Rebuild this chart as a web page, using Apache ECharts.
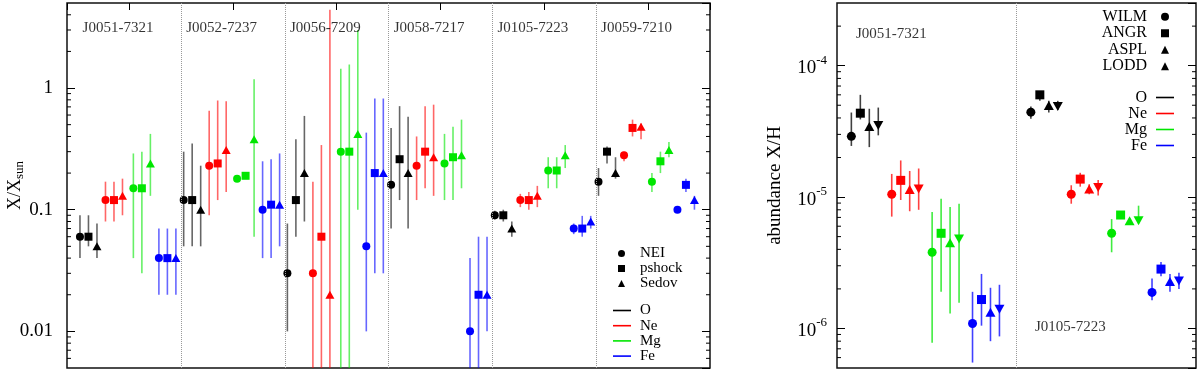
<!DOCTYPE html>
<html>
<head>
<meta charset="utf-8">
<script src="https://cdn.jsdelivr.net/npm/echarts@6/dist/echarts.min.js"></script>
<style>
html, body { margin: 0; padding: 0; background: #fff; }
#chart { width: 1200px; height: 372px; }
</style>
</head>
<body>
<div id="chart"></div>
<script>
// ---- left panel: X/Xsun per remnant, three plasma models ----
const leftGroups = ['J0051-7321', 'J0052-7237', 'J0056-7209', 'J0058-7217', 'J0105-7223', 'J0059-7210'];
const leftModels = ['NEI', 'pshock', 'Sedov'];
const leftSymbols = ['circle', 'rect', 'triangle'];
const species = ['O', 'Ne', 'Mg', 'Fe'];
const speciesColors = ['#000000', '#ff0000', '#00e600', '#0000ff'];
// x offset of each (species, model) point inside a group
const leftOffsets = [-0.475, -0.393, -0.311, -0.229, -0.147, -0.065, 0.04, 0.122, 0.204, 0.286, 0.368, 0.45];
const leftDividers = [1.5, 2.5, 3.5, 4.5, 5.5];
const leftTickExps = [-2, -1, 0];
const leftTickLabels = ['0.01', '0.1', '1'];

// [value, low, high] per group, per model (NEI, pshock, Sedov)
const leftO = [
    [[0.06, 0.04, 0.09], [0.06, 0.05, 0.09], [0.05, 0.04, 0.077]],
    [[0.12, 0.05, 0.30], [0.12, 0.05, 0.35], [0.10, 0.05, 0.23]],
    [[0.03, 0.01, 0.077], [0.12, 0.06, 0.38], [0.20, 0.08, 0.59]],
    [[0.16, 0.07, 0.47], [0.26, 0.12, 0.71], [0.20, 0.07, 0.58]],
    [[0.09, 0.083, 0.098], [0.09, 0.08, 0.10], [0.07, 0.06, 0.08]],
    [[0.17, 0.13, 0.22], [0.30, 0.24, 0.33], [0.20, 0.18, 0.27]]
];
const leftNe = [
    [[0.12, 0.08, 0.17], [0.12, 0.08, 0.17], [0.13, 0.09, 0.18]],
    [[0.23, 0.09, 0.65], [0.24, 0.12, 0.79], [0.31, 0.14, 0.78]],
    [[0.03, 0.001, 0.17], [0.06, 0.001, 0.34], [0.02, 0.001, 4.4]],
    [[0.23, 0.12, 0.40], [0.30, 0.15, 0.71], [0.27, 0.13, 0.73]],
    [[0.12, 0.105, 0.135], [0.12, 0.10, 0.14], [0.13, 0.105, 0.157]],
    [[0.28, 0.25, 0.30], [0.47, 0.40, 0.55], [0.48, 0.38, 0.51]]
];
const leftMg = [
    [[0.15, 0.04, 0.29], [0.15, 0.03, 0.30], [0.24, 0.13, 0.42]],
    [[0.18, 0.18, 0.18], [0.19, 0.19, 0.19], [0.38, 0.06, 1.18]],
    [[0.30, 0.001, 1.44], [0.30, 0.001, 1.56], [0.42, 0.10, 3.0]],
    [[0.24, 0.12, 0.42], [0.27, 0.12, 0.48], [0.28, 0.15, 0.55]],
    [[0.21, 0.15, 0.27], [0.21, 0.15, 0.27], [0.28, 0.22, 0.34]],
    [[0.17, 0.14, 0.20], [0.25, 0.20, 0.30], [0.31, 0.27, 0.36]]
];
const leftFe = [
    [[0.04, 0.02, 0.07], [0.04, 0.02, 0.07], [0.04, 0.02, 0.07]],
    [[0.10, 0.04, 0.25], [0.11, 0.04, 0.26], [0.11, 0.05, 0.29]],
    [[0.05, 0.01, 0.43], [0.20, 0.03, 0.82], [0.20, 0.03, 0.82]],
    [[0.01, 0.001, 0.04], [0.02, 0.001, 0.06], [0.02, 0.01, 0.06]],
    [[0.07, 0.063, 0.077], [0.07, 0.06, 0.089], [0.08, 0.07, 0.089]],
    [[0.10, 0.10, 0.10], [0.16, 0.14, 0.18], [0.12, 0.10, 0.13]]
];
const leftData = [leftO, leftNe, leftMg, leftFe];

// ---- right panel: abundance X/H for two remnants, four solar tables ----
const rightGroups = ['J0051-7321', 'J0105-7223'];
const rightModels = ['WILM', 'ANGR', 'ASPL', 'LODD'];
const rightSymbols = ['circle', 'rect', 'triangle', 'triangle'];
const rightRotate = [0, 0, 0, 180];
const rightOffsets = [-0.42, -0.37, -0.32, -0.27, -0.195, -0.145, -0.095, -0.045,
    0.03, 0.08, 0.13, 0.18, 0.255, 0.305, 0.355, 0.405];
const rightDividers = [1.5];
const rightTickExps = [-6, -5, -4];

// [value, low, high] per group, per table (WILM, ANGR, ASPL, LODD)
const rightO = [
    [[2.9e-5, 2.45e-5, 4.4e-5], [4.35e-5, 3.9e-5, 6.0e-5], [3.45e-5, 2.4e-5, 4.7e-5], [3.5e-5, 2.95e-5, 4.8e-5]],
    [[4.43e-5, 3.95e-5, 4.9e-5], [6.0e-5, 5.4e-5, 6.4e-5], [4.97e-5, 4.4e-5, 5.4e-5], [4.9e-5, 4.6e-5, 5.4e-5]]
];
const rightNe = [
    [[1.05e-5, 7.1e-6, 1.5e-5], [1.34e-5, 9.5e-6, 1.9e-5], [1.14e-5, 7.8e-6, 1.58e-5], [1.15e-5, 8.0e-6, 1.65e-5]],
    [[1.05e-5, 8.9e-6, 1.23e-5], [1.37e-5, 1.2e-5, 1.53e-5], [1.15e-5, 1.05e-5, 1.25e-5], [1.18e-5, 1.03e-5, 1.35e-5]]
];
const rightMg = [
    [[3.8e-6, 7.8e-7, 7.7e-6], [5.3e-6, 1.9e-6, 9.7e-6], [4.5e-6, 1.3e-6, 8.4e-6], [4.8e-6, 1.57e-6, 8.9e-6]],
    [[5.3e-6, 3.8e-6, 6.8e-6], [7.3e-6, 7.0e-6, 7.6e-6], [6.6e-6, 6.3e-6, 6.9e-6], [6.6e-6, 6.3e-6, 8.6e-6]]
];
const rightFe = [
    [[1.09e-6, 5.5e-7, 1.9e-6], [1.66e-6, 1.05e-6, 2.6e-6], [1.33e-6, 8.0e-7, 2.04e-6], [1.4e-6, 8.7e-7, 2.15e-6]],
    [[1.88e-6, 1.64e-6, 2.4e-6], [2.83e-6, 2.5e-6, 3.2e-6], [2.28e-6, 1.9e-6, 2.6e-6], [2.3e-6, 2.0e-6, 2.65e-6]]
];
const rightData = [rightO, rightNe, rightMg, rightFe];

const FONT = 'Liberation Serif';

// minor log ticks 2..9 x 10^n inside the axis range
const minorTicks = (lo, hi) => {
    const out = [];
    for (let e = Math.floor(Math.log10(lo)); e <= Math.ceil(Math.log10(hi)); e++) {
        for (let k = 2; k <= 9; k++) {
            const v = k * Math.pow(10, e);
            if (v > lo * 1.0001 && v < hi * 0.9999) out.push(v);
        }
    }
    return out;
};

const errorBarRender = (opacity) => (params, api) => {
    const cs = params.coordSys;
    const top = api.coord([api.value(0), api.value(2)]);
    const bot = api.coord([api.value(0), api.value(1)]);
    const y1 = Math.max(top[1], cs.y);
    const y2 = Math.min(bot[1], cs.y + cs.height);
    if (y2 - y1 < 0.5) return null;
    return {
        type: 'line',
        shape: { x1: top[0], y1: y1, x2: top[0], y2: y2 },
        style: { stroke: api.visual('color'), lineWidth: 1.6, opacity: opacity }
    };
};

const minorTickRender = (len) => (params, api) => {
    const cs = params.coordSys;
    const y = api.coord([api.value(0), api.value(1)])[1];
    return {
        type: 'group',
        children: [
            { type: 'line', shape: { x1: cs.x, y1: y, x2: cs.x + len, y2: y }, style: { stroke: '#000', lineWidth: 1 } },
            { type: 'line', shape: { x1: cs.x + cs.width, y1: y, x2: cs.x + cs.width - len, y2: y }, style: { stroke: '#000', lineWidth: 1 } }
        ]
    };
};

const series = [];

// panel builder
function addPanel(p) {
    // error bars, one series per species
    species.forEach((sp, s) => {
        const data = [];
        p.values[s].forEach((grp, g) => {
            grp.forEach((d, m) => {
                data.push([g + 1 + p.offsets[s * p.models.length + m], d[1], d[2]]);
            });
        });
        series.push({
            name: sp, type: 'custom', xAxisIndex: p.xi, yAxisIndex: p.yi,
            itemStyle: { color: speciesColors[s] },
            encode: { x: 0, y: [1, 2] },
            renderItem: errorBarRender(p.barOpacity),
            data: data, z: 2, silent: true
        });
    });
    // markers, one series per model
    p.models.forEach((md, m) => {
        const data = [];
        p.values.forEach((spVals, s) => {
            spVals.forEach((grp, g) => {
                data.push({
                    value: [g + 1 + p.offsets[s * p.models.length + m], grp[m][0]],
                    itemStyle: { color: speciesColors[s] }
                });
            });
        });
        series.push({
            name: md, type: 'scatter', xAxisIndex: p.xi, yAxisIndex: p.yi,
            symbol: p.symbols[m], symbolSize: p.sizes[m], symbolRotate: p.rotate ? p.rotate[m] : 0,
            itemStyle: { color: '#000', opacity: 1 },
            data: data, z: 3, silent: true
        });
    });
    // remnant names + dotted dividers
    series.push({
        type: 'scatter', xAxisIndex: p.xi, yAxisIndex: p.yi, symbolSize: 0, silent: true,
        data: p.labels,
        label: {
            show: true, position: 'right', distance: 0, formatter: '{b}',
            fontFamily: FONT, fontSize: 15, color: '#000'
        },
        markLine: {
            silent: true, symbol: ['none', 'none'], label: { show: false },
            lineStyle: { color: '#999', type: 'dotted', width: 1 },
            data: p.dividers.map(v => ({ xAxis: v }))
        },
        z: 4
    });
    // minor ticks
    series.push({
        type: 'custom', xAxisIndex: p.xi, yAxisIndex: p.yi, silent: true,
        renderItem: minorTickRender(4),
        data: minorTicks(p.ymin, p.ymax).map(v => [p.xmin, v]), z: 5
    });
}

const LEFT_Y = [0.005, 5];
const RIGHT_Y = [5e-7, 3e-4];

addPanel({
    xi: 0, yi: 0, values: leftData, models: leftModels, symbols: leftSymbols,
    sizes: [8, 8, [9, 8]], offsets: leftOffsets, barOpacity: 0.6,
    dividers: leftDividers, xmin: 0.4, ymin: LEFT_Y[0], ymax: LEFT_Y[1],
    labels: leftGroups.map((n, g) => ({ name: n, value: [g + 1 - 0.45, 3.1] }))
});
addPanel({
    xi: 1, yi: 2, values: rightData, models: rightModels, symbols: rightSymbols,
    rotate: rightRotate, sizes: [9, 9, [10, 9], [10, 9]], offsets: rightOffsets, barOpacity: 0.75,
    dividers: rightDividers, xmin: 0.5, ymin: RIGHT_Y[0], ymax: RIGHT_Y[1],
    labels: [
        { name: rightGroups[0], value: [0.606, 1.75e-4] },
        { name: rightGroups[1], value: [1.603, 1.02e-6] }
    ]
});

const hiddenAxisBits = {
    axisLine: { show: false }, splitLine: { show: false }
};

const option = {
    animation: false,
    backgroundColor: '#fff',
    textStyle: { fontFamily: FONT, color: '#000' },
    grid: [
        { left: 67, right: 490, top: 3, bottom: 4, show: true, borderColor: '#111', borderWidth: 1.5,
          backgroundColor: 'transparent', containLabel: false, outerBoundsMode: 'none' },
        { left: 837, right: 4, top: 3, bottom: 4, show: true, borderColor: '#111', borderWidth: 1.5,
          backgroundColor: 'transparent', containLabel: false, outerBoundsMode: 'none' }
    ],
    xAxis: [
        { gridIndex: 0, type: 'value', min: 0.4, max: 6.6, splitNumber: 6, position: 'top',
          ...hiddenAxisBits,
          axisTick: { show: true, inside: true, length: 7, lineStyle: { color: '#000', width: 1 } },
          axisLabel: { show: false } },
        { gridIndex: 1, type: 'value', min: 0.5, max: 2.5, ...hiddenAxisBits,
          axisTick: { show: false }, axisLabel: { show: false } }
    ],
    yAxis: [
        { gridIndex: 0, type: 'log', logBase: 10, min: LEFT_Y[0], max: LEFT_Y[1], position: 'left',
          ...hiddenAxisBits,
          axisTick: { show: true, inside: true, length: 8, lineStyle: { color: '#000', width: 1 } },
          axisLabel: {
              show: true, margin: 14, fontFamily: FONT, fontSize: 19, color: '#000',
              showMinLabel: false, showMaxLabel: false,
              formatter: v => {
                  const i = leftTickExps.indexOf(Math.round(Math.log10(v)));
                  return i >= 0 ? leftTickLabels[i] : '';
              }
          },
          name: 'X/X{s|sun}', nameLocation: 'middle', nameGap: 41, nameRotate: 90, nameMoveOverlap: false,
          nameTextStyle: {
              fontFamily: FONT, fontSize: 18, color: '#000',
              rich: {
                  s: { fontFamily: FONT, fontSize: 13, color: '#000', padding: [9, 0, 0, 0] }
              }
          } },
        { gridIndex: 0, type: 'log', logBase: 10, min: LEFT_Y[0], max: LEFT_Y[1], position: 'right',
          ...hiddenAxisBits,
          axisTick: { show: true, inside: true, length: 8, lineStyle: { color: '#000', width: 1 } },
          axisLabel: { show: false } },
        { gridIndex: 1, type: 'log', logBase: 10, min: RIGHT_Y[0], max: RIGHT_Y[1], position: 'left',
          ...hiddenAxisBits,
          axisTick: { show: true, inside: true, length: 8, lineStyle: { color: '#000', width: 1 } },
          axisLabel: {
              show: true, margin: 10, showMinLabel: false, showMaxLabel: false,
              formatter: v => {
                  const e = Math.round(Math.log10(v));
                  return rightTickExps.indexOf(e) >= 0 ? '{b|10}{e|' + e + '}' : '';
              },
              rich: {
                  b: { fontFamily: FONT, fontSize: 19, color: '#000', verticalAlign: 'bottom' },
                  e: { fontFamily: FONT, fontSize: 13, color: '#000', verticalAlign: 'bottom', padding: [0, 0, 11, 0] }
              }
          },
          name: 'abundance X/H', nameLocation: 'middle', nameGap: 52, nameRotate: 90,
          nameTextStyle: { fontFamily: FONT, fontSize: 19, color: '#000' } },
        { gridIndex: 1, type: 'log', logBase: 10, min: RIGHT_Y[0], max: RIGHT_Y[1], position: 'right',
          ...hiddenAxisBits,
          axisTick: { show: true, inside: true, length: 8, lineStyle: { color: '#000', width: 1 } },
          axisLabel: { show: false } }
    ],
    legend: [
        { data: leftModels.map((n, i) => ({ name: n, icon: leftSymbols[i] })), orient: 'vertical',
          left: 618, top: 246, padding: 0,
          itemWidth: 7, itemHeight: 7, itemGap: 0, selectedMode: false, symbolRotate: 0,
          textStyle: { fontFamily: FONT, fontSize: 15, color: '#000', lineHeight: 14, padding: [0, 0, 0, 10] } },
        { data: species.map(n => ({ name: n, icon: 'rect' })), orient: 'vertical', left: 613, top: 303, padding: 0,
          itemWidth: 18, itemHeight: 1.6, itemGap: 0.2, selectedMode: false,
          textStyle: { fontFamily: FONT, fontSize: 15, color: '#000', lineHeight: 14, padding: [0, 0, 0, 4] } },
        { data: rightModels.map((n, i) => ({ name: n, icon: rightSymbols[i] })), orient: 'vertical', align: 'right',
          right: 31, top: 8.5, padding: 0, itemWidth: 8, itemHeight: 8, itemGap: 0, selectedMode: false, symbolRotate: 0,
          textStyle: { fontFamily: FONT, fontSize: 16, color: '#000', lineHeight: 16.5, padding: [0, 9, 0, 0] } },
        { data: species.map(n => ({ name: n, icon: 'rect' })), orient: 'vertical', align: 'right',
          right: 26, top: 89.5, padding: 0, itemWidth: 18, itemHeight: 1.6, itemGap: 0, selectedMode: false,
          textStyle: { fontFamily: FONT, fontSize: 16, color: '#000', lineHeight: 16, padding: [0, 4, 0, 0] } }
    ],
    series: series
};

const chart = echarts.init(document.getElementById('chart'), null, { renderer: 'canvas' });
chart.setOption(option);
</script>
</body>
</html>
